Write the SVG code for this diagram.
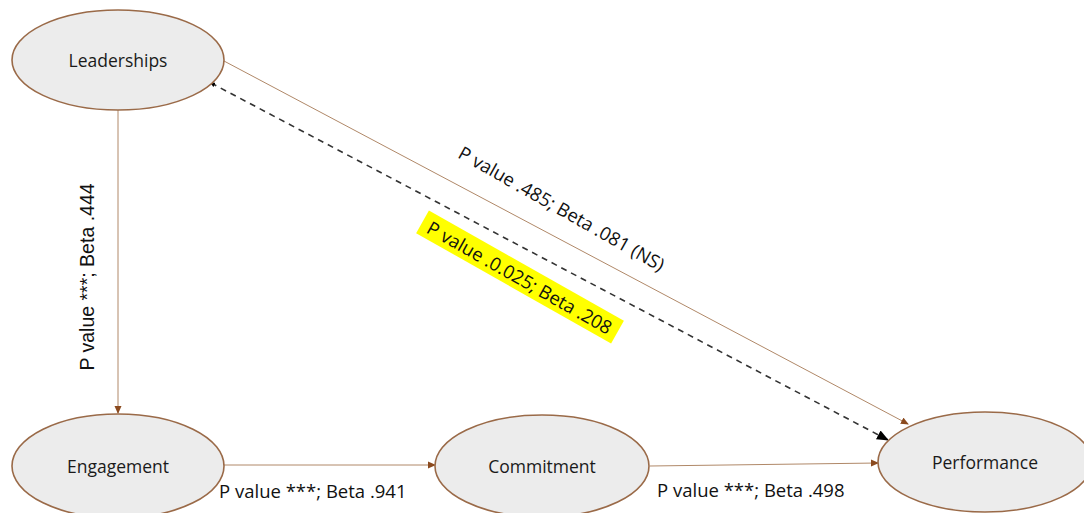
<svg xmlns="http://www.w3.org/2000/svg" width="1084" height="513" viewBox="0 0 1084 513">
<style>
.node{fill:#ECECEC;stroke:#9A6A48;stroke-width:1.6}
.lbl{font-family:"Open Sans","Liberation Sans",sans-serif;font-size:17.5px;fill:#1a1a1a;text-anchor:middle;dominant-baseline:central}
.edge{font-family:"Open Sans","Liberation Sans",sans-serif;font-size:18.5px;fill:#111}
.vert{font-family:"Liberation Sans",Arial,sans-serif;font-size:19.5px;fill:#111}
.conn{stroke:#B08868;stroke-width:1;fill:none}
.dash{stroke:#333;stroke-width:1.6;stroke-dasharray:6 5;fill:none}
</style>
<defs>
<marker id="ab" markerWidth="8" markerHeight="8" refX="7" refY="4" orient="auto" markerUnits="userSpaceOnUse"><path d="M0,0.5 L8,4 L0,7.5 Z" fill="#8B4A1E"/></marker>
<marker id="ak" markerWidth="12" markerHeight="12" refX="11" refY="6" orient="auto" markerUnits="userSpaceOnUse"><path d="M0,1 L12,6 L0,11 Z" fill="#000"/></marker>
<marker id="ks" markerWidth="5" markerHeight="5" refX="1" refY="2.5" orient="auto" markerUnits="userSpaceOnUse"><path d="M0,2.5 L5,0 L5,5 Z" fill="#000"/></marker>
</defs>
<g id="connectors">
<line class="conn" x1="118" y1="110" x2="118" y2="413" marker-end="url(#ab)"/>
<line class="conn" x1="224" y1="465" x2="435" y2="465" marker-end="url(#ab)"/>
<line class="conn" x1="650" y1="466" x2="878" y2="463" marker-end="url(#ab)"/>
<line class="conn" x1="224" y1="61" x2="908" y2="424" marker-end="url(#ab)"/>
<line class="dash" x1="211" y1="83" x2="888" y2="440" marker-end="url(#ak)" marker-start="url(#ks)"/>
<text class="vert" text-anchor="middle" dominant-baseline="central" transform="translate(87,277) rotate(-90)">P value ***; Beta .444</text>
<text class="edge" x="219" y="498">P value ***; Beta .941</text>
<text class="edge" x="657" y="497">P value ***; Beta .498</text>
<text class="edge" text-anchor="middle" dominant-baseline="central" transform="translate(562,208) rotate(29.5)">P value .485; Beta .081 (NS)</text>
<g transform="translate(520,277) rotate(29.5)">
<rect x="-112" y="-13" width="224" height="26" fill="#FFFF00"/>
<text class="edge" text-anchor="middle" dominant-baseline="central">P value .0.025; Beta .208</text>
</g>
</g>
<g id="leaderships"><ellipse class="node" cx="118" cy="60" rx="106" ry="50"/><text class="lbl" x="118" y="60">Leaderships</text></g>
<g id="engagement"><ellipse class="node" cx="118" cy="466" rx="106" ry="52"/><text class="lbl" x="118" y="466">Engagement</text></g>
<g id="commitment"><ellipse class="node" cx="542" cy="466" rx="107" ry="51"/><text class="lbl" x="542" y="466">Commitment</text></g>
<g id="performance"><ellipse class="node" cx="985" cy="462" rx="107" ry="50"/><text class="lbl" x="985" y="462">Performance</text></g>
</svg>
